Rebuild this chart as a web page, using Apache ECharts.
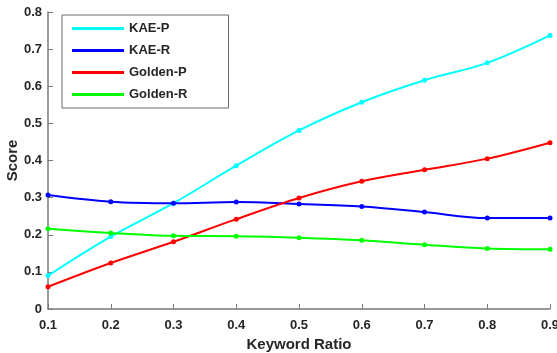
<!DOCTYPE html>
<html>
<head>
<meta charset="utf-8">
<script src="https://cdn.jsdelivr.net/npm/echarts@6/dist/echarts.min.js"></script>
<style>
	html, body { margin: 0; padding: 0; background: #fff; }
	#chart { width: 557px; height: 353px; }
</style>
</head>
<body>
<div id="chart"></div>
<script>
var ratios = [0.1, 0.2, 0.3, 0.4, 0.5, 0.6, 0.7, 0.8, 0.9];
var kaeP = [0.090, 0.195, 0.285, 0.386, 0.481, 0.557, 0.616, 0.663, 0.737];
var kaeR = [0.307, 0.289, 0.285, 0.288, 0.283, 0.276, 0.261, 0.245, 0.245];
var goldenP = [0.060, 0.124, 0.181, 0.242, 0.299, 0.344, 0.375, 0.405, 0.448];
var goldenR = [0.216, 0.205, 0.197, 0.196, 0.192, 0.185, 0.173, 0.163, 0.161];

var names = ['KAE-P', 'KAE-R', 'Golden-P', 'Golden-R'];
var colors = ['#00ffff', '#0000ff', '#ff0000', '#00ff00'];
var values = [kaeP, kaeR, goldenP, goldenR];

var font = 'Liberation Sans, Arial, sans-serif';
var axisColor = '#7a7a7a';
var textColor = '#262626';

function pairs(arr) {
	return ratios.map(function(x, i){ return [x, arr[i]]; });
}

var series = names.map(function(n, i){
	return {
		name: n,
		type: 'line',
		data: pairs(values[i]),
		smooth: 0.35,
		symbol: 'circle',
		symbolSize: 5,
		itemStyle: { color: colors[i] },
		lineStyle: { color: colors[i], width: 2 }
	};
});

var chart = echarts.init(document.getElementById('chart'));
chart.setOption({
	animation: false,
	grid: { left: 48, right: 7, top: 12, bottom: 44, containLabel: false, outerBoundsMode: 'none' },
	legend: {
		orient: 'vertical',
		left: 62,
		top: 15,
		data: names,
		icon: 'rect',
		itemWidth: 52,
		itemHeight: 3,
		itemGap: 9,
		padding: [7, 41, 7, 10],
		borderColor: '#6a6a6a',
		borderWidth: 1,
		backgroundColor: '#fff',
		textStyle: { fontFamily: font, fontWeight: 'bold', fontSize: 13, color: textColor }
	},
	xAxis: {
		type: 'value',
		min: 0.1,
		max: 0.9,
		interval: 0.1,
		name: 'Keyword Ratio',
		nameLocation: 'middle',
		nameGap: 27,
		nameTextStyle: { fontFamily: font, fontWeight: 'bold', fontSize: 15, color: textColor },
		axisLine: { lineStyle: { color: axisColor, width: 1.5 } },
		axisTick: { inside: true, length: 5, lineStyle: { color: axisColor } },
		splitLine: { show: false },
		axisLabel: {
			fontFamily: font, fontWeight: 'bold', fontSize: 13, color: textColor, margin: 10,
			formatter: function(v){ return (+v).toFixed(1); }
		}
	},
	yAxis: {
		type: 'value',
		min: 0,
		max: 0.8,
		interval: 0.1,
		name: 'Score',
		nameLocation: 'middle',
		nameGap: 28,
		nameMoveOverlap: false,
		nameTextStyle: { fontFamily: font, fontWeight: 'bold', fontSize: 15, color: textColor },
		axisLine: { show: true, lineStyle: { color: axisColor, width: 1.5 } },
		axisTick: { show: true, inside: true, length: 5, lineStyle: { color: axisColor } },
		splitLine: { show: false },
		axisLabel: {
			fontFamily: font, fontWeight: 'bold', fontSize: 13, color: textColor, margin: 6,
			formatter: function(v){ return v === 0 ? '0' : (+v).toFixed(1); }
		}
	},
	series: series
});
</script>
</body>
</html>
